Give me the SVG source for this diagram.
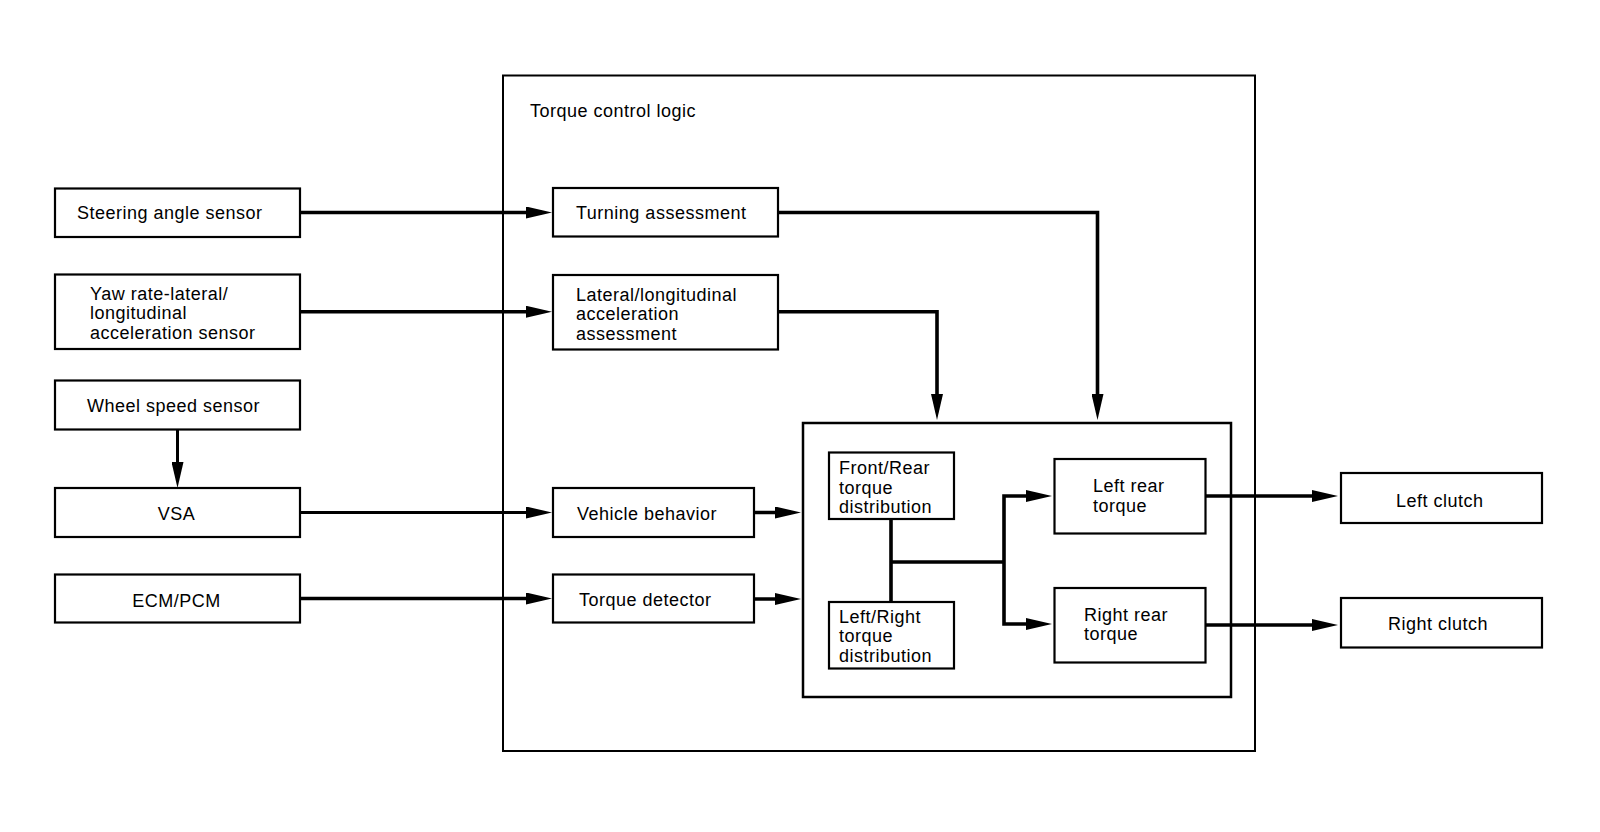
<svg xmlns="http://www.w3.org/2000/svg" width="1600" height="832" viewBox="0 0 1600 832">
<style>
  .box { fill: #fff; stroke: #000; stroke-width: 2.2; }
  .frame { fill: none; stroke: #000; stroke-width: 2; }
  .t { font-family: "Liberation Sans", Arial, sans-serif; font-size: 18px; fill: #000; letter-spacing: 0.5px; }
  .m { text-anchor: middle; }
  .c { fill: none; stroke: #000; stroke-width: 3.6; }
  .thin { stroke-width: 3; }
</style>
<defs>
  <marker id="ah" markerUnits="userSpaceOnUse" markerWidth="26" markerHeight="12" refX="16" refY="6" orient="auto" viewBox="0 0 26 12">
    <path d="M0,0 L26,6 L0,12 Z" fill="#000"/>
  </marker>
</defs>
<rect width="1600" height="832" fill="#fff"/>

<g id="torque-control-logic">
  <rect class="frame" x="503" y="75.5" width="752" height="675.5"/>
  <text class="t" x="530" y="117">Torque control logic</text>
</g>

<g id="connectors">
  <path class="c" d="M300,212.5 H542" marker-end="url(#ah)"/>
  <path class="c" d="M300,311.75 H542" marker-end="url(#ah)"/>
  <path class="c thin" d="M300,512.5 H542" marker-end="url(#ah)"/>
  <path class="c" d="M300,598.5 H542" marker-end="url(#ah)"/>
  <path class="c thin" d="M177.5,430 V478" marker-end="url(#ah)"/>
  <path class="c" d="M778,212.5 H1097.5 V410" marker-end="url(#ah)"/>
  <path class="c" d="M778,311.75 H937 V410" marker-end="url(#ah)"/>
  <path class="c" d="M754,512.5 H791" marker-end="url(#ah)"/>
  <path class="c" d="M754,599 H791" marker-end="url(#ah)"/>
  <path class="c" d="M891,519 V602 M891,562 H1004"/>
  <path class="c" d="M1004,562 V496 H1042" marker-end="url(#ah)"/>
  <path class="c" d="M1004,562 V624 H1042" marker-end="url(#ah)"/>
  <path class="c" d="M1205,496 H1328" marker-end="url(#ah)"/>
  <path class="c" d="M1205,625 H1328" marker-end="url(#ah)"/>
</g>

<g id="steering-angle-sensor">
  <rect class="box" x="55" y="188.5" width="245" height="48.5"/>
  <text class="t" x="77" y="219">Steering angle sensor</text>
</g>
<g id="yaw-rate-sensor">
  <rect class="box" x="55" y="274.5" width="245" height="74.5"/>
  <text class="t" x="90" y="299.5">Yaw rate-lateral/</text>
  <text class="t" x="90" y="319">longitudinal</text>
  <text class="t" x="90" y="338.5">acceleration sensor</text>
</g>
<g id="wheel-speed-sensor">
  <rect class="box" x="55" y="380.5" width="245" height="49"/>
  <text class="t m" x="173.5" y="411.5">Wheel speed sensor</text>
</g>
<g id="vsa">
  <rect class="box" x="55" y="488" width="245" height="49"/>
  <text class="t m" x="176.5" y="520">VSA</text>
</g>
<g id="ecm-pcm">
  <rect class="box" x="55" y="574.5" width="245" height="48"/>
  <text class="t m" x="176.5" y="606.5">ECM/PCM</text>
</g>

<g id="turning-assessment">
  <rect class="box" x="553" y="188" width="225" height="48.5"/>
  <text class="t" x="576" y="219">Turning assessment</text>
</g>
<g id="lateral-longitudinal-assessment">
  <rect class="box" x="553" y="275" width="225" height="74.5"/>
  <text class="t" x="576" y="300.5">Lateral/longitudinal</text>
  <text class="t" x="576" y="320">acceleration</text>
  <text class="t" x="576" y="339.5">assessment</text>
</g>
<g id="vehicle-behavior">
  <rect class="box" x="553" y="488" width="201" height="49"/>
  <text class="t" x="577" y="519.5">Vehicle behavior</text>
</g>
<g id="torque-detector">
  <rect class="box" x="553" y="574.5" width="201" height="48"/>
  <text class="t" x="579" y="605.5">Torque detector</text>
</g>

<g id="distribution-block">
  <rect class="frame" x="803" y="423" width="428" height="274" style="stroke-width:2.5"/>
</g>
<g id="front-rear-distribution">
  <rect class="box" x="829" y="452.5" width="125" height="66.5"/>
  <text class="t" x="839" y="474">Front/Rear</text>
  <text class="t" x="839" y="493.5">torque</text>
  <text class="t" x="839" y="512.5">distribution</text>
</g>
<g id="left-right-distribution">
  <rect class="box" x="829" y="602" width="125" height="66.5"/>
  <text class="t" x="839" y="623">Left/Right</text>
  <text class="t" x="839" y="642">torque</text>
  <text class="t" x="839" y="661.5">distribution</text>
</g>
<g id="left-rear-torque">
  <rect class="box" x="1054.5" y="459" width="151" height="74.5"/>
  <text class="t" x="1093" y="492">Left rear</text>
  <text class="t" x="1093" y="511.5">torque</text>
</g>
<g id="right-rear-torque">
  <rect class="box" x="1054.5" y="588" width="151" height="74.5"/>
  <text class="t" x="1084" y="620.5">Right rear</text>
  <text class="t" x="1084" y="640">torque</text>
</g>

<g id="left-clutch">
  <rect class="box" x="1341" y="473" width="201" height="50"/>
  <text class="t" x="1396" y="506.5">Left clutch</text>
</g>
<g id="right-clutch">
  <rect class="box" x="1341" y="598" width="201" height="49.5"/>
  <text class="t" x="1388" y="630">Right clutch</text>
</g>
</svg>
